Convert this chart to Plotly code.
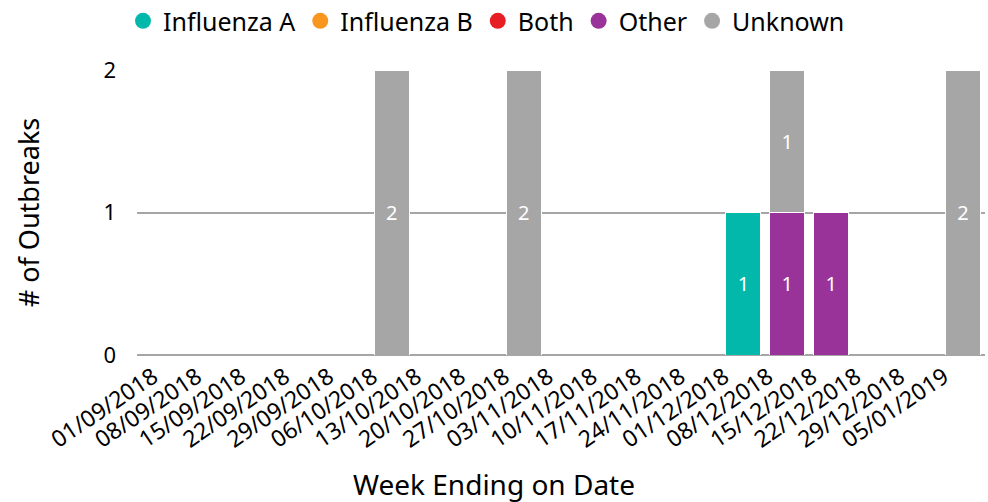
import plotly.graph_objects as go

weeks = ["01/09/2018", "08/09/2018", "15/09/2018", "22/09/2018", "29/09/2018",
         "06/10/2018", "13/10/2018", "20/10/2018", "27/10/2018", "03/11/2018",
         "10/11/2018", "17/11/2018", "24/11/2018", "01/12/2018", "08/12/2018",
         "15/12/2018", "22/12/2018", "29/12/2018", "05/01/2019"]

influenza_a = [0, 0, 0, 0, 0, 0, 0, 0, 0, 0, 0, 0, 0, 1, 0, 0, 0, 0, 0]
influenza_b = [0] * 19
both = [0] * 19
other = [0, 0, 0, 0, 0, 0, 0, 0, 0, 0, 0, 0, 0, 0, 1, 1, 0, 0, 0]
unknown = [0, 0, 0, 0, 0, 2, 0, 0, 2, 0, 0, 0, 0, 0, 1, 0, 0, 0, 2]

series = [
    ("Influenza A", influenza_a, "#01B8AA"),
    ("Influenza B", influenza_b, "#F8961E"),
    ("Both", both, "#E81E25"),
    ("Other", other, "#993399"),
    ("Unknown", unknown, "#A6A6A6"),
]

x_title = "Week Ending on Date"
y_title = "# of Outbreaks"

FONT = "Noto Sans, Open Sans, sans-serif"

fig = go.Figure()
for name, vals, color in series:
    yv = [v if v else None for v in vals]
    fig.add_trace(go.Bar(
        x=weeks, y=yv, name=name, marker=dict(color=color, line=dict(color="white", width=1)),
        text=[str(v) if v else "" for v in vals], textposition="inside",
        insidetextanchor="middle", textangle=0,
        textfont=dict(color="white", size=20, family=FONT),
        showlegend=False, hoverinfo="x+y+name",
    ))
for name, vals, color in series:
    fig.add_trace(go.Scatter(
        x=[None], y=[None], mode="markers", name=name,
        marker=dict(color=color, size=19, symbol="circle"),
        showlegend=True,
    ))

# x-axis title is centred on the whole figure in the reference, so it is an annotation
fig.add_annotation(text=x_title, xref="paper", yref="paper", x=0.421, y=-0.452,
                   xanchor="center", yanchor="middle", showarrow=False, borderpad=0,
                   font=dict(size=28, family=FONT, color="black"))

fig.update_layout(
    template="none",
    barmode="stack",
    bargap=0.2,
    width=988, height=502,
    margin=dict(l=137, r=3, t=70, b=147, autoexpand=False),
    plot_bgcolor="white", paper_bgcolor="white",
    font=dict(family=FONT, color="black"),
    uniformtext=dict(minsize=8, mode="show"),
    legend=dict(orientation="h", xref="container", yref="container",
                x=0.1245, y=0.958, xanchor="left", yanchor="middle",
                font=dict(size=25, family=FONT), itemwidth=30, traceorder="normal",
                tracegroupgap=0, bgcolor="rgba(0,0,0,0)"),
    xaxis=dict(type="category", range=[-0.8, 18.5], tickangle=-34,
               tickfont=dict(size=23, family=FONT), ticklabelshift=-19, ticklabelstandoff=3,
               showgrid=False, showline=False, ticks="", automargin=False),
    yaxis=dict(range=[0, 2], tickvals=[0, 1, 2], tickfont=dict(size=22, family=FONT),
               showgrid=True, gridcolor="#A6A6A6", gridwidth=2,
               zeroline=True, zerolinecolor="#A6A6A6", zerolinewidth=2,
               title=dict(text=y_title, font=dict(size=27, family=FONT), standoff=55),
               ticks="", ticklabelstandoff=20, automargin=False, showline=False),
)

fig.write_html("out.html", config={"displayModeBar": False},
               post_script="document.body.style.margin='0px';")
